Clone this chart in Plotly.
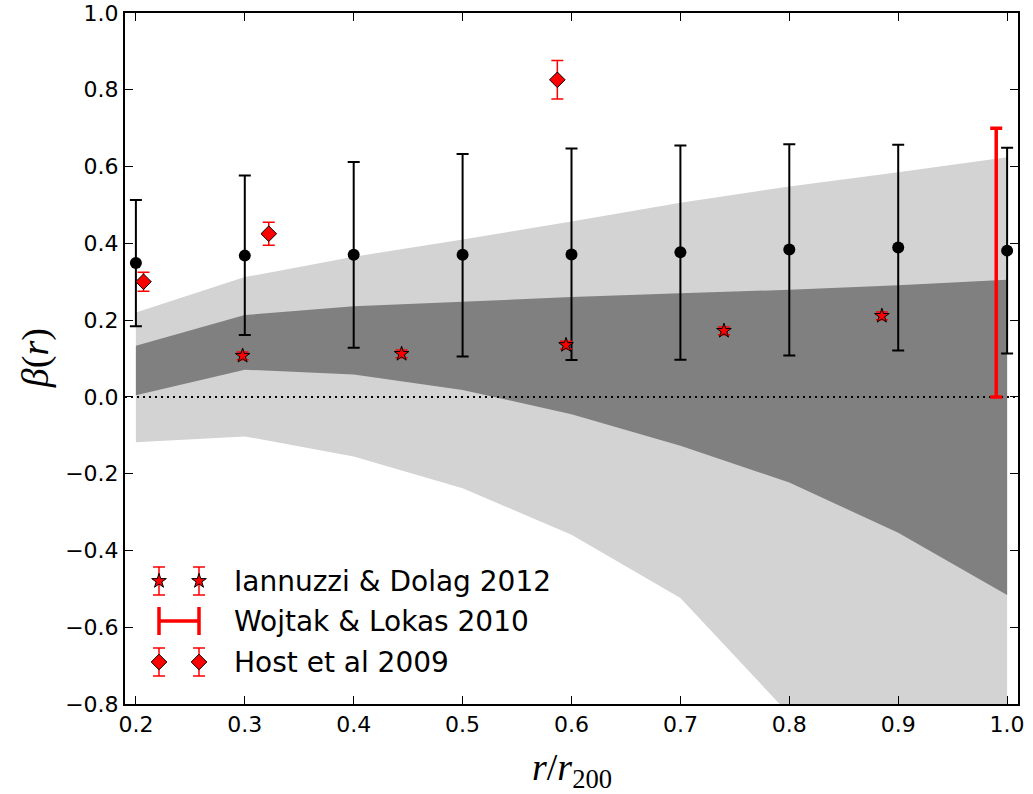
import plotly.graph_objects as go

# ---- data -------------------------------------------------------------
# radial bins (r / r200)
r_bins = [0.2, 0.3, 0.4, 0.5, 0.6, 0.7, 0.8, 0.9, 1.0]

# anisotropy profile with its upper / lower error limits
beta_med = [0.349, 0.368, 0.370, 0.370, 0.371, 0.377, 0.384, 0.389, 0.381]
beta_hi = [0.513, 0.577, 0.612, 0.633, 0.647, 0.655, 0.658, 0.657, 0.649]
beta_lo = [0.184, 0.161, 0.128, 0.105, 0.096, 0.097, 0.108, 0.121, 0.113]

# outer (light) and inner (dark) confidence bands
band_outer_hi = [0.220, 0.312, 0.365, 0.410, 0.457, 0.506, 0.548, 0.585, 0.624]
band_outer_lo = [-0.118, -0.103, -0.155, -0.238, -0.359, -0.524, -0.827, -1.250, -1.700]
band_inner_hi = [0.133, 0.213, 0.236, 0.248, 0.260, 0.270, 0.279, 0.291, 0.305]
band_inner_lo = [0.004, 0.071, 0.058, 0.018, -0.045, -0.127, -0.223, -0.354, -0.516]

# Iannuzzi & Dolag 2012
iannuzzi_r = [0.298, 0.444, 0.595, 0.740, 0.885]
iannuzzi_beta = [0.107, 0.112, 0.135, 0.172, 0.211]
iannuzzi_err = [0.010, 0.010, 0.010, 0.010, 0.010]

# Wojtak & Lokas 2010 (allowed range)
wojtak_r = [0.99]
wojtak_lo = [0.0]
wojtak_hi = [0.70]

# Host et al 2009
host_r = [0.207, 0.322, 0.587]
host_beta = [0.300, 0.425, 0.826]
host_err = [0.025, 0.030, 0.050]

x_range = [0.19, 1.01]
y_range = [-0.8, 1.0]

legend_labels = ["Iannuzzi & Dolag 2012", "Wojtak & Lokas 2010", "Host et al 2009"]

# ---- figure -----------------------------------------------------------
LIGHT = "#d3d3d3"
DARK = "#808080"
RED = "#ff0000"

fig = go.Figure()

# confidence bands
fig.add_trace(go.Scatter(
    x=r_bins + r_bins[::-1], y=band_outer_hi + band_outer_lo[::-1],
    fill="toself", fillcolor=LIGHT, line=dict(width=0), mode="lines",
    hoverinfo="skip", showlegend=False))
fig.add_trace(go.Scatter(
    x=r_bins + r_bins[::-1], y=band_inner_hi + band_inner_lo[::-1],
    fill="toself", fillcolor=DARK, line=dict(width=0), mode="lines",
    hoverinfo="skip", showlegend=False))

# beta = 0 reference line
fig.add_trace(go.Scatter(
    x=x_range, y=[0, 0], mode="lines",
    line=dict(color="black", width=2, dash="2px,4px"),
    hoverinfo="skip", showlegend=False))

# Wojtak & Lokas range bar
w_mid = [(a + b) / 2 for a, b in zip(wojtak_lo, wojtak_hi)]
fig.add_trace(go.Scatter(
    x=wojtak_r, y=w_mid, mode="markers",
    marker=dict(size=1, color="rgba(0,0,0,0)"),
    error_y=dict(type="data", symmetric=False,
                 array=[h - m for h, m in zip(wojtak_hi, w_mid)],
                 arrayminus=[m - l for m, l in zip(w_mid, wojtak_lo)],
                 color=RED, thickness=3.5, width=6),
    showlegend=False))

# anisotropy profile
fig.add_trace(go.Scatter(
    x=r_bins, y=beta_med, mode="markers",
    marker=dict(size=12, color="black"),
    error_y=dict(type="data", symmetric=False,
                 array=[h - m for h, m in zip(beta_hi, beta_med)],
                 arrayminus=[m - l for m, l in zip(beta_med, beta_lo)],
                 color="black", thickness=2, width=6),
    showlegend=False))

# Iannuzzi & Dolag
fig.add_trace(go.Scatter(
    x=iannuzzi_r, y=iannuzzi_beta, mode="markers",
    marker=dict(symbol="star", size=11, color=RED,
                line=dict(color="black", width=1)),
    error_y=dict(type="data", array=iannuzzi_err, color=RED,
                 thickness=1.5, width=6),
    showlegend=False))

# Host et al
fig.add_trace(go.Scatter(
    x=host_r, y=host_beta, mode="markers",
    marker=dict(symbol="diamond", size=12, color=RED,
                line=dict(color="black", width=1)),
    error_y=dict(type="data", array=host_err, color=RED,
                 thickness=1.5, width=6),
    showlegend=False))

# ---- legend drawn on a pixel-scaled overlay axis ----------------------
key_x = [159, 199]
row_y = [581, 621, 662]
key_bar = 14
text_x = 232

fig.add_trace(go.Scatter(
    x=key_x, y=[row_y[0]] * 2, xaxis="x2", yaxis="y2", mode="markers",
    marker=dict(symbol="star", size=11, color=RED, line=dict(color="black", width=1)),
    error_y=dict(type="data", array=[key_bar] * 2, color=RED, thickness=1.5, width=6),
    hoverinfo="skip", showlegend=False))
fig.add_trace(go.Scatter(
    x=key_x, y=[row_y[1]] * 2, xaxis="x2", yaxis="y2", mode="lines",
    line=dict(color=RED, width=3.5),
    error_y=dict(type="data", array=[key_bar] * 2, color=RED, thickness=3.5, width=0),
    hoverinfo="skip", showlegend=False))
fig.add_trace(go.Scatter(
    x=key_x, y=[row_y[2]] * 2, xaxis="x2", yaxis="y2", mode="markers",
    marker=dict(symbol="diamond", size=12, color=RED, line=dict(color="black", width=1)),
    error_y=dict(type="data", array=[key_bar] * 2, color=RED, thickness=1.5, width=6),
    hoverinfo="skip", showlegend=False))

for label, ry in zip(legend_labels, row_y):
    fig.add_annotation(
        x=text_x, y=ry, xref="x2", yref="y2", text=label, showarrow=False,
        xanchor="left", yanchor="middle",
        font=dict(family="DejaVu Sans", size=28, color="black"))

# axis titles
fig.add_annotation(
    x=0.5, y=-0.095, xref="paper", yref="paper",
    text="<i>r</i>/<i>r</i><sub>200</sub>", showarrow=False,
    xanchor="center", yanchor="middle",
    font=dict(family="Liberation Serif", size=38, color="black"))
fig.add_annotation(
    x=-0.1, y=0.5, xref="paper", yref="paper",
    text="<i>β</i>(<i>r</i>)", showarrow=False, textangle=-90,
    xanchor="center", yanchor="middle",
    font=dict(family="Liberation Serif", size=38, color="black"))

axis_common = dict(
    showline=True, linecolor="black", linewidth=2, mirror="ticks",
    ticks="inside", ticklen=8, tickwidth=1, tickcolor="black",
    showgrid=False, zeroline=False, automargin=False,
    tickfont=dict(family="DejaVu Sans", size=22, color="black"),
)

fig.update_layout(
    width=1033, height=794,
    margin=dict(l=125, r=15, t=13, b=90),
    paper_bgcolor="white", plot_bgcolor="white",
    showlegend=False,
    xaxis=dict(range=x_range, dtick=0.1, tick0=0.2, tickformat=".1f", **axis_common),
    yaxis=dict(range=y_range, dtick=0.2, tick0=-0.8, tickformat=".1f", **axis_common),
    xaxis2=dict(overlaying="x", range=[125, 1018], visible=False, fixedrange=True),
    yaxis2=dict(overlaying="y", range=[704, 13], visible=False, fixedrange=True),
)

fig.write_html("out.html")
